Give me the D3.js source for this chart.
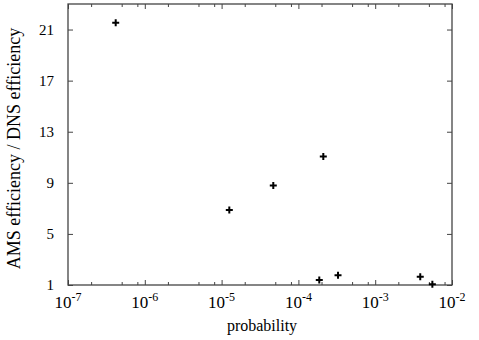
<!DOCTYPE html>
<html>
<head>
<meta charset="utf-8">
<script src="https://cdn.jsdelivr.net/npm/d3@7"></script>
<style>
  html, body { margin: 0; padding: 0; background: #fff; }
  svg { display: block; }
</style>
</head>
<body>
<script>
// ---- data ----
const probability = [4.18e-7, 1.26e-5, 4.71e-5, 2.11e-4, 1.87e-4, 3.28e-4, 3.86e-3, 5.55e-3];
const efficiencyRatio = [21.53, 6.88, 8.79, 11.06, 1.39, 1.76, 1.65, 1.05];
const xTickExponents = [-7, -6, -5, -4, -3, -2];
const yTicks = [1, 5, 9, 13, 17, 21];
const minorMultipliers = [2, 5, 8];
const xLabel = "probability";
const yLabel = "AMS efficiency / DNS efficiency";

// ---- layout ----
const W = 479, H = 340;
const mLeft = 68, mRight = 452, mTop = 4, mBottom = 285;
const SERIF = "'Liberation Serif', 'Times New Roman', 'DejaVu Serif', serif";

const svg = d3.select("body").append("svg").attr("width", W).attr("height", H);

const x = d3.scaleLog().domain([1e-7, 1e-2]).range([mLeft, mRight]);
const y = d3.scaleLinear().domain([1, 23]).range([mBottom, mTop]);

const axisColor = "#444";
const g = svg.append("g");

const minorX = [];
xTickExponents.slice(0, -1).forEach(e => minorMultipliers.forEach(m => minorX.push(m * Math.pow(10, e))));
const majorX = xTickExponents.map(e => Math.pow(10, e));

function styleAxis(sel) {
  sel.select(".domain").remove();
  sel.selectAll("line").attr("stroke", axisColor).attr("stroke-width", 1);
}
g.append("g").attr("transform", `translate(0,${mBottom})`)
  .call(d3.axisBottom(x).tickValues(majorX).tickSize(-5).tickFormat(""))
  .call(styleAxis);
g.append("g").attr("transform", `translate(0,${mBottom})`)
  .call(d3.axisBottom(x).tickValues(minorX).tickSize(-3).tickFormat(""))
  .call(styleAxis);
g.append("g").attr("transform", `translate(0,${mTop})`)
  .call(d3.axisTop(x).tickValues(majorX).tickSize(-5).tickFormat(""))
  .call(styleAxis);
g.append("g").attr("transform", `translate(0,${mTop})`)
  .call(d3.axisTop(x).tickValues(minorX).tickSize(-3).tickFormat(""))
  .call(styleAxis);
g.append("g").attr("transform", `translate(${mLeft},0)`)
  .call(d3.axisLeft(y).tickValues(yTicks).tickSize(-5).tickFormat(""))
  .call(styleAxis);
g.append("g").attr("transform", `translate(${mRight},0)`)
  .call(d3.axisRight(y).tickValues(yTicks).tickSize(-5).tickFormat(""))
  .call(styleAxis);

g.append("rect")
  .attr("x", mLeft).attr("y", mTop)
  .attr("width", mRight - mLeft).attr("height", mBottom - mTop)
  .attr("fill", "none").attr("stroke", axisColor).attr("stroke-width", 1.3);

const xl = svg.append("g");
xTickExponents.forEach(e => {
  const t = xl.append("text")
    .attr("x", x(Math.pow(10, e)))
    .attr("y", 308)
    .attr("text-anchor", "middle")
    .style("font-family", SERIF)
    .style("font-size", "17px");
  t.append("tspan").text("10");
  t.append("tspan").attr("dy", -7).style("font-size", "12px").text("-" + Math.abs(e));
});

svg.append("g").selectAll("text").data(yTicks).join("text")
  .attr("x", 54)
  .attr("y", d => y(d))
  .attr("dy", "0.35em")
  .attr("text-anchor", "end")
  .style("font-family", SERIF)
  .style("font-size", "15px")
  .text(d => d);

svg.append("text")
  .attr("x", (mLeft + mRight) / 2 + 2)
  .attr("y", 331)
  .attr("text-anchor", "middle")
  .style("font-family", SERIF)
  .style("font-size", "16px")
  .text(xLabel);

svg.append("text")
  .attr("transform", `translate(20,${(mTop + mBottom) / 2 + 4}) rotate(-90)`)
  .attr("text-anchor", "middle")
  .style("font-family", SERIF)
  .style("font-size", "18px")
  .text(yLabel);

svg.append("g").selectAll("path").data(probability).join("path")
  .attr("transform", (d, i) => `translate(${x(d)},${y(efficiencyRatio[i])})`)
  .attr("d", "M-3.5,0H3.5M0,-3.5V3.5")
  .attr("stroke", "#000")
  .attr("stroke-width", 2)
  .attr("fill", "none");
</script>
</body>
</html>
